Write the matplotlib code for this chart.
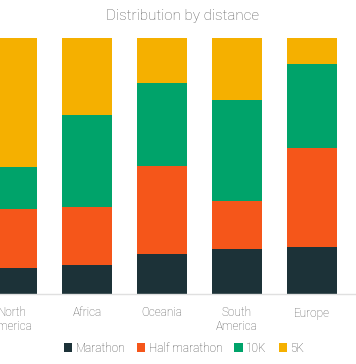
import numpy as np
import matplotlib
matplotlib.use("Agg")
import matplotlib.pyplot as plt
from matplotlib.patches import Patch

plt.rcParams["font.family"] = ["Roboto", "DejaVu Sans"]
plt.rcParams["font.weight"] = "light"

# Share of runners per distance (percent)
regions = ["North\nAmerica", "Africa", "Oceania", "South\nAmerica", "Europe"]
marathon = [10.0, 11.2, 15.5, 17.4, 18.5]
half_marathon = [23.2, 22.7, 34.6, 19.0, 38.6]
ten_k = [16.4, 36.0, 32.4, 39.4, 32.6]
five_k = [50.4, 30.1, 17.5, 24.2, 10.3]

series = ["Marathon", "Half marathon", "10K", "5K"]
colors = ["#1c3238", "#f5561a", "#00a36a", "#f5b000"]

fig = plt.figure(figsize=(3.56, 3.64), dpi=100)
ax = fig.add_axes([0, 1 - 294 / 364, 1, 256 / 364])

x = np.arange(len(regions))
bottom = np.zeros(len(regions))
for vals, col in zip([marathon, half_marathon, ten_k, five_k], colors):
    ax.bar(x, vals, width=0.667, bottom=bottom, color=col, edgecolor="none")
    bottom += np.array(vals)

ax.set_xlim(-0.16, 4.587)
ax.set_ylim(0, 100)
ax.set_yticks([])
ax.set_xticks(x)
ax.set_xticklabels(regions, fontsize=8.5, color="#5f5f5f", linespacing=1.1)
ax.tick_params(axis="x", length=0, pad=9)
for side in ["top", "left", "right"]:
    ax.spines[side].set_visible(False)
ax.spines["bottom"].set_color("#e0e0e0")
ax.spines["bottom"].set_linewidth(1)

fig.text(182.5 / 356, 1 - 16 / 364, "Distribution by distance",
         ha="center", va="center", fontsize=11, color="#5f5f5f")

handles = [Patch(facecolor=c, edgecolor="none") for c in colors]
fig.legend(handles, series, loc="center", bbox_to_anchor=(184 / 356, 1 - 348 / 364),
           ncol=4, frameon=False, fontsize=8.5, labelcolor="#4a4a4a",
           handlelength=0.7, handleheight=0.7, handletextpad=0.3,
           columnspacing=1.0, borderpad=0)

fig.savefig("out.png", dpi=100)
